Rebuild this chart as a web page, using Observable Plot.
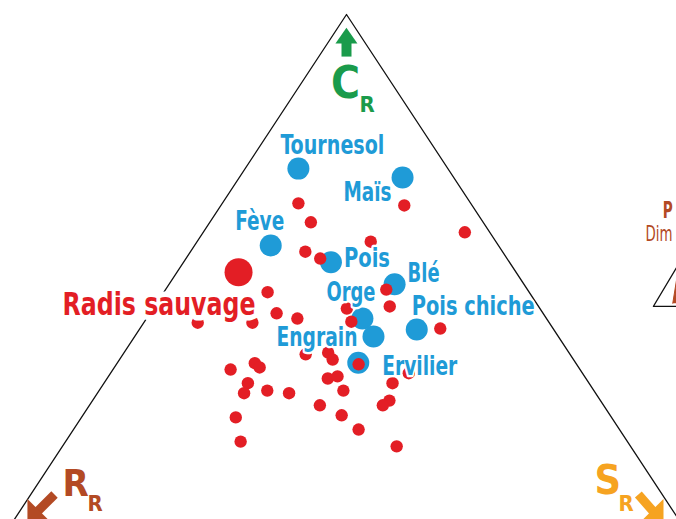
<!DOCTYPE html>
<html>
<head>
<meta charset="utf-8">
<script src="https://cdn.jsdelivr.net/npm/d3@7"></script>
<script src="https://cdn.jsdelivr.net/npm/@observablehq/plot@0.6"></script>
<style>
  html, body { margin: 0; padding: 0; background: #fff; overflow: hidden; }
  #chart svg { display: block; }
</style>
</head>
<body>
<div id="chart"></div>
<script>
// Ternary compositions (%): C = competitor, S = stress-tolerator, R = ruderal (R = 100 - C - S)
// Crops (blue)
const cropNames = ["Tournesol", "Maïs", "Fève", "Pois", "Blé", "Orge", "Engrain", "Pois chiche", "Ervilier"];
const cropC = [70.7, 69.0, 56.1, 52.9, 48.7, 42.2, 38.8, 40.1, 33.8];
const cropS = [7.7, 23.6, 11.0, 21.3, 32.6, 31.2, 34.5, 40.1, 34.8];

// Wild radish (big red)
const radisName = "Radis sauvage";
const radisC = [51.0];
const radisS = [8.9];

// Wild radish populations (small red)
const popC = [64.1, 60.5, 63.7, 58.6, 56.8, 54.9, 53.6, 47.2, 47.7, 44.5,
              43.2, 42.2, 41.4, 41.4, 44.1, 41.6, 40.3, 35.4, 35.7, 34.4,
              33.5, 31.8, 32.5, 33.7, 32.9, 30.8, 31.2, 29.9, 29.9, 28.0,
              28.5, 28.0, 28.5, 26.6, 25.7, 25.7, 23.8, 23.4, 21.1, 18.8, 17.9];
const popS = [11.0, 14.6, 26.5, 37.8, 25.1, 16.6, 19.4, 15.0, 31.9, 34.0,
              18.3, 21.8, 7.8, 15.7, 28.0, 29.9, 43.4, 26.4, 29.5, 30.8,
              35.0, 43.1, 17.0, 19.9, 21.0, 31.9, 33.1, 41.7, 20.8, 21.2,
              24.3, 27.7, 35.3, 42.9, 42.4, 33.3, 37.4, 22.3, 41.2, 25.3, 48.3];

// Corner labels
const cornerLetters = ["C", "R", "S"];
const cornerSub = ["R", "R", "R"];
// partially visible side legend (at the right edge)
const legendTitle = ["P", "Dim"];

// ---- build tables ----
const tern = (c, s) => ({x: (s + c / 2) / 100, y: c / 100, C: c, S: s, R: 100 - c - s});
const crops = cropNames.map((n, i) => ({name: n, ...tern(cropC[i], cropS[i])}));
const radis = radisC.map((c, i) => ({name: radisName, ...tern(c, radisS[i])}));
const pops = popC.map((c, i) => tern(c, popS[i]));
const corners = [tern(100, 0), tern(0, 0), tern(0, 100)]; // C apex, R bottom-left, S bottom-right
const frame = [corners[1], corners[2], corners[0], corners[1]];

// ---- layout (styles) ----
const BLUE = "#1f9bd7", RED = "#e31e25", GREEN = "#1a9b4b", BROWN = "#b34a24", ORANGE = "#f6a321";
const FONT = "'Liberation Sans Narrow', 'Arial Narrow', 'DejaVu Sans Condensed', sans-serif";
const cropLabelLayout = {
  "Tournesol":   {dx: 34,  dy: -15, anchor: "middle"},
  "Maïs":        {dx: -11, dy: 23,  anchor: "end"},
  "Fève":        {dx: -11, dy: -15, anchor: "middle"},
  "Pois":        {dx: 13,  dy: 5,   anchor: "start"},
  "Blé":         {dx: 13,  dy: -2,  anchor: "start"},
  "Orge":        {dx: -36, dy: -18, anchor: "start"},
  "Engrain":     {dx: -16, dy: 10,  anchor: "end"},
  "Pois chiche": {dx: -5,  dy: -15, anchor: "start"},
  "Ervilier":    {dx: 24,  dy: 12,  anchor: "start"}
};
// rendered label widths (px), condensed lettering
const labelWidths = {"Tournesol": 104, "Maïs": 48, "Fève": 49, "Pois": 46, "Blé": 32, "Orge": 49,
  "Engrain": 81, "Pois chiche": 123, "Ervilier": 75, "Radis sauvage": 193, "P": 10, "Dim": 27};

// corner arrows, in ternary % (shaft tail/end, head tip) + rotation
const arrowSpec = [
  {tail: [92.0, 4.0], end: [95.0, 2.5], tip: [97.5, 1.24], rot: 0, half: 11, k: 1.45, color: GREEN, sw: 10},
  {tail: [8.75, 3.43], end: [5.32, 2.54], tip: [3.61, 2.09], rot: 225, half: 16, k: 1.0, color: BROWN, sw: 9},
  {tail: [8.75, 87.8], end: [5.32, 91.8], tip: [3.61, 94.0], rot: 135, half: 16, k: 1.0, color: ORANGE, sw: 9}
];
const shafts = arrowSpec.map(a => {
  const p = tern(...a.tail), q = tern(...a.end);
  return {x1: p.x, y1: p.y, x2: q.x, y2: q.y, color: a.color, sw: a.sw};
});
const headSym = (k) => ({
  draw(ctx, size) {
    const L = Math.sqrt(size / Math.PI);
    ctx.moveTo(0, 0); ctx.lineTo(-L, L * k); ctx.lineTo(L, L * k); ctx.closePath();
  }
});

const textStyle = {fontFamily: FONT, fontWeight: "bold", lineAnchor: "bottom"};

const marks = [
  Plot.line(frame, {x: "x", y: "y", stroke: "#111", strokeWidth: 1.3}),
  Plot.dot(crops, {x: "x", y: "y", r: 11, fill: BLUE}),
  Plot.dot(pops, {x: "x", y: "y", r: 6.2, fill: RED}),
  Plot.dot(radis, {x: "x", y: "y", r: 14, fill: RED}),
  ...crops.map(d => {
    const L = cropLabelLayout[d.name];
    return Plot.text([d], {x: "x", y: "y", text: "name", dx: L.dx, dy: L.dy, textAnchor: L.anchor,
      fill: BLUE, stroke: "white", strokeWidth: 4.5, fontSize: 26, ...textStyle});
  }),
  Plot.text(radis, {x: "x", y: "y", text: "name", dx: 17, dy: 43, textAnchor: "end",
    fill: RED, stroke: "white", strokeWidth: 11, fontSize: 32, ...textStyle}),
  // corner arrows
  ...shafts.map(s => Plot.link([s], {x1: "x1", y1: "y1", x2: "x2", y2: "y2", stroke: s.color, strokeWidth: s.sw, strokeLinecap: "butt"})),
  ...arrowSpec.map(a => Plot.dot([tern(...a.tip)], {x: "x", y: "y", r: a.half, symbol: headSym(a.k), rotate: a.rot, fill: a.color, stroke: "none"})),
  // corner labels
  Plot.text([corners[0]], {x: "x", y: "y", text: () => cornerLetters[0], dx: -1, dy: 83, textAnchor: "middle", fill: GREEN, fontSize: 44, ...textStyle}),
  Plot.text([corners[0]], {x: "x", y: "y", text: () => cornerSub[0], dx: 13, dy: 97, textAnchor: "start", fill: GREEN, fontSize: 22, ...textStyle}),
  Plot.text([corners[1]], {x: "x", y: "y", text: () => cornerLetters[1], dx: 62, dy: -45, textAnchor: "start", fill: BROWN, fontSize: 38, ...textStyle}),
  Plot.text([corners[1]], {x: "x", y: "y", text: () => cornerSub[1], dx: 87, dy: -30, textAnchor: "start", fill: BROWN, fontSize: 22, ...textStyle}),
  Plot.text([corners[2]], {x: "x", y: "y", text: () => cornerLetters[2], dx: -98, dy: -47, textAnchor: "start", fill: ORANGE, fontSize: 41, ...textStyle}),
  Plot.text([corners[2]], {x: "x", y: "y", text: () => cornerSub[2], dx: -74, dy: -30, textAnchor: "start", fill: ORANGE, fontSize: 22, ...textStyle})
];

const sideMini = [tern(44.5, 72.1), tern(44.5, 78.9), tern(52.9, 71.7), tern(44.5, 72.1)];
const sideMark = [tern(45.1, 74.6), tern(50.4, 72.6), tern(50.4, 73.8), tern(45.1, 76.4)];
marks.push(
  Plot.text([tern(61.4, 65.0)], {x: "x", y: "y", text: () => legendTitle[0], textAnchor: "start", fill: BROWN, fontSize: 23, ...textStyle}),
  Plot.text([tern(57.0, 64.7)], {x: "x", y: "y", text: () => legendTitle[1], textAnchor: "start", fill: BROWN, fontSize: 21, fontFamily: FONT, lineAnchor: "bottom"}),
  Plot.line(sideMini, {x: "x", y: "y", stroke: "#111", strokeWidth: 1.2}),
  Plot.line(sideMark, {x: "x", y: "y", fill: BROWN, stroke: BROWN, strokeWidth: 1})
);

const chart = Plot.plot({
  width: 676,
  height: 519,
  margin: 0,
  x: {domain: [0, 1], range: [0, 692], axis: null},
  y: {domain: [0, 1], range: [540, 14], axis: null},
  style: {background: "white", overflow: "hidden"},
  marks
});
document.getElementById("chart").appendChild(chart);
// condense label lettering to the reference widths
d3.select(chart).selectAll("text").each(function() {
  const w = labelWidths[this.textContent];
  if (w) { this.setAttribute("textLength", w); this.setAttribute("lengthAdjust", "spacingAndGlyphs"); }
});
</script>
</body>
</html>
